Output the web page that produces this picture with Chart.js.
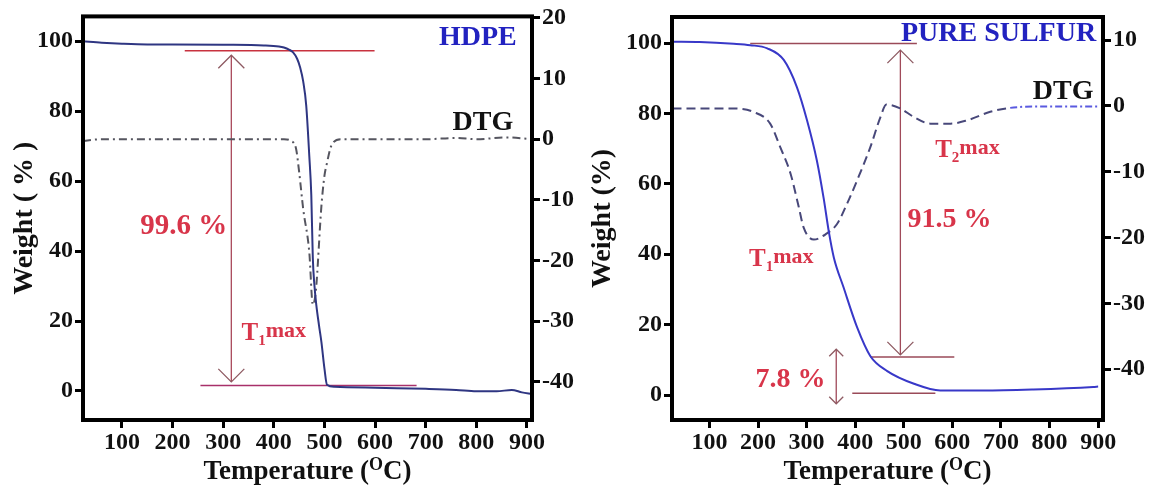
<!DOCTYPE html>
<html>
<head>
<meta charset="utf-8">
<script src="https://cdn.jsdelivr.net/npm/chart.js@4.4.1/dist/chart.umd.min.js"></script>
<style>
  body { margin: 0; background: #fff; }
  #wrap { position: relative; width: 1156px; height: 491px; }
  .panel { position: absolute; top: 0; width: 578px; height: 491px; }
</style>
</head>
<body>
<div id="wrap">
  <div class="panel" style="left:0"><canvas id="hdpe" width="578" height="491"></canvas></div>
  <div class="panel" style="left:578px"><canvas id="sulfur" width="578" height="491"></canvas></div>
</div>
<script>
const FONT = "'Liberation Serif', 'Times New Roman', serif";

// axis ticks
const tempTicks = [100, 200, 300, 400, 500, 600, 700, 800, 900];
const weightTicks = [0, 20, 40, 60, 80, 100];
const hdpeDtgTicks = [20, 10, 0, -10, -20, -30, -40];
const sulfurDtgTicks = [10, 0, -10, -20, -30, -40];

// HDPE weight loss (TGA)
const hdpeTemp   = [23, 60, 100, 150, 200, 300, 380, 410, 420, 430, 438, 446, 452, 458, 464, 470, 474, 477, 480, 484, 489, 494, 500, 505, 520, 600, 700, 760, 800, 840, 870, 890, 910];
const hdpeWeight = [100, 99.6, 99.3, 99.1, 99.1, 99.0, 98.8, 98.5, 98.2, 97.6, 96.8, 95.0, 92.5, 88.5, 81.6, 67.3, 56, 38, 30.5, 24.5, 19, 14, 6.4, 1.8, 1.2, 0.9, 0.6, 0.3, -0.1, -0.1, 0.3, -0.4, -0.9];

// HDPE DTG
const hdpeDtgTemp = [23, 60, 150, 250, 350, 420, 434, 444, 450, 458, 470, 477, 483, 494, 500, 504, 514, 533, 600, 700, 760, 800, 860, 910];
const hdpeDtg     = [-0.3, 0, 0, 0, 0, 0, -0.3, -1.6, -5.4, -11.5, -18.6, -27.3, -25, -11, -6, -4.3, -1, 0, 0, 0, 0.2, 0, 0.3, 0];

// pure sulfur weight loss (TGA)
const sulfurTemp   = [24, 80, 150, 184, 219, 253, 280, 301, 321, 335, 346, 356, 376, 404, 431, 466, 521, 575, 600, 664, 767, 890, 900];
const sulfurWeight = [100.4, 100.3, 99.8, 99.4, 98.5, 95.2, 87.5, 78, 66.7, 56, 46.2, 39.1, 30.6, 19.2, 11.1, 6.8, 3.2, 1.3, 1.3, 1.3, 1.6, 2.3, 2.4];

// pure sulfur DTG
const sulfurDtgTemp = [24, 81, 149, 190, 225, 246, 267, 284, 294, 315, 339, 363, 383, 404, 431, 452, 464, 493, 521, 555, 596, 630, 678, 719, 767, 898];
const sulfurDtg     = [-0.4, -0.4, -0.4, -0.9, -2.7, -6.3, -10.3, -15.4, -18.5, -20.3, -19.5, -17.9, -14.9, -11.3, -6.3, -1.7, 0.2, -0.4, -1.7, -2.7, -2.7, -2.2, -0.9, -0.3, -0.1, -0.1];

// guide lines, [temperature, weight]
const hdpeOnset     = [[224, 97.3], [599, 97.3]];
const hdpeResidue   = [[255, 1.6], [682, 1.6]];
const hdpeSpan      = [[316, 96], [316, 2.6]];
const sulfurOnset   = [[184, 99.9], [527, 99.9]];
const sulfurStep    = [[431, 10.8], [604, 10.8]];
const sulfurResidue = [[394, 0.5], [565, 0.5]];
const sulfurSpan    = [[493, 98], [493, 11.4]];
const sulfurSmall   = [[361, 13], [361, -2.5]];

function pts(xs, ys) { return xs.map((t, i) => ({ x: t, y: ys[i] })); }
function pairPts(p) { return p.map(q => ({ x: q[0], y: q[1] })); }

function guide(p, color, width) {
  return { data: pairPts(p), borderColor: color, borderWidth: width, pointRadius: 0, yAxisID: 'y' };
}

function richText(ctx, parts, x, y, color) {
  let w = 0;
  parts.forEach(p => { ctx.font = 'bold ' + p.size + 'px ' + FONT; p.w = ctx.measureText(p.t).width; w += p.w; });
  let cx = x - w / 2;
  ctx.fillStyle = color;
  ctx.textAlign = 'left';
  ctx.textBaseline = 'alphabetic';
  parts.forEach(p => {
    ctx.font = 'bold ' + p.size + 'px ' + FONT;
    ctx.fillText(p.t, cx, y + (p.dy || 0));
    cx += p.w;
  });
}

function notesPlugin(spec) {
  return {
    id: 'notes',
    afterDatasetsDraw(chart) {
      const { ctx, chartArea: a } = chart;
      const x = chart.scales.x, y = chart.scales.y;
      ctx.save();
      ctx.strokeStyle = '#000';
      ctx.lineWidth = 4;
      ctx.strokeRect(a.left, a.top, a.right - a.left, a.bottom - a.top);

      ctx.strokeStyle = spec.arrowColor;
      ctx.lineWidth = 1.3;
      spec.arrows.forEach(ar => {
        const px = x.getPixelForValue(ar.at[0]), py = y.getPixelForValue(ar.at[1]);
        const s = ar.size, d = ar.dir === 'up' ? s : -s;
        ctx.beginPath();
        ctx.moveTo(px - s, py + d);
        ctx.lineTo(px, py);
        ctx.lineTo(px + s, py + d);
        ctx.stroke();
      });

      spec.labels.forEach(l => {
        const px = x.getPixelForValue(l.at[0]), py = y.getPixelForValue(l.at[1]);
        richText(ctx, l.parts, px, py + l.parts[0].size * 0.33, l.color);
      });

      richText(ctx, [
        { t: 'Temperature (', size: 27 },
        { t: 'O', size: 18, dy: -9 },
        { t: 'C)', size: 27 }
      ], (a.left + a.right) / 2, 479, '#111');
      ctx.restore();
    }
  };
}

function tickFont() { return { family: FONT, size: 24, weight: 'bold' }; }

function makeChart(id, o) {
  const datasets = [
    { data: o.weight, borderColor: o.weightColor, borderWidth: 2, pointRadius: 0, yAxisID: 'y', cubicInterpolationMode: 'monotone' },
    Object.assign({ data: o.dtg, borderColor: o.dtgColor, borderWidth: 2, pointRadius: 0, yAxisID: 'y1', cubicInterpolationMode: 'monotone', borderDash: o.dtgDash }, o.dtgExtra || {})
  ].concat(o.guides);

  return new Chart(document.getElementById(id), {
    type: 'line',
    data: { datasets: datasets },
    options: {
      responsive: false,
      animation: false,
      devicePixelRatio: 1,
      layout: { padding: { top: o.top, left: 0, right: 0, bottom: 0 } },
      plugins: { legend: { display: false }, tooltip: { enabled: false } },
      scales: {
        x: {
          type: 'linear', position: 'bottom', min: 23, max: 910,
          afterBuildTicks: s => { s.ticks = tempTicks.map(v => ({ value: v })); },
          afterFit: s => { s.height = 71; },
          ticks: { font: tickFont(), color: '#111', padding: 0, maxRotation: 0, autoSkip: false },
          grid: { drawOnChartArea: false, drawTicks: true, tickLength: 8, tickWidth: 3, tickColor: '#000' },
          border: { display: false }
        },
        y: {
          position: 'left', min: o.yMin, max: o.yMax,
          afterBuildTicks: s => { s.ticks = weightTicks.map(v => ({ value: v })); },
          afterFit: s => { s.width = o.leftW; },
          ticks: { font: tickFont(), color: '#111', padding: 2 },
          grid: { drawOnChartArea: false, drawTicks: true, tickLength: 8, tickWidth: 3, tickColor: '#000' },
          border: { display: false },
          title: { display: true, text: o.yTitle, color: '#111', font: { family: FONT, size: 28, weight: 'bold' }, padding: { top: 8, bottom: 0 } }
        },
        y1: {
          position: 'right', min: o.dMin, max: o.dMax,
          afterBuildTicks: s => { s.ticks = o.dTicks.map(v => ({ value: v })); },
          afterFit: s => { s.width = o.rightW; },
          ticks: { font: tickFont(), color: '#111', padding: 2 },
          grid: { drawOnChartArea: false, drawTicks: true, tickLength: 8, tickWidth: 3, tickColor: '#000' },
          border: { display: false }
        }
      }
    },
    plugins: [notesPlugin(o.notes)]
  });
}

const RED = '#d8354a';

makeChart('hdpe', {
  top: 14, leftW: 83, rightW: 46,
  yMin: -8.3, yMax: 107.1, dMin: -46.3, dMax: 20.25, dTicks: hdpeDtgTicks,
  yTitle: 'Weight ( % )',
  weight: pts(hdpeTemp, hdpeWeight), weightColor: '#2f3682',
  dtg: pts(hdpeDtgTemp, hdpeDtg), dtgColor: '#55555f', dtgDash: [8, 4, 2, 4],
  guides: [
    guide(hdpeOnset, '#c8323f', 1.5),
    guide(hdpeResidue, '#a8306a', 1.5),
    guide(hdpeSpan, '#a8485a', 1.3)
  ],
  notes: {
    arrowColor: '#8e5a62',
    arrows: [
      { at: hdpeSpan[0], dir: 'up', size: 13 },
      { at: hdpeSpan[1], dir: 'down', size: 13 }
    ],
    labels: [
      { at: [222, 47.7], color: RED, parts: [{ t: '99.6 %', size: 29 }] },
      { at: [400, 16.9], color: RED, parts: [{ t: 'T', size: 25 }, { t: '1', size: 15, dy: 5 }, { t: 'max', size: 22, dy: -3 }] },
      { at: [803, 101.7], color: '#2222c0', parts: [{ t: 'HDPE', size: 28 }] },
      { at: [813, 77.4], color: '#111', parts: [{ t: 'DTG', size: 28 }] }
    ]
  }
});

makeChart('sulfur', {
  top: 17, leftW: 94, rightW: 53,
  yMin: -7.1, yMax: 107.4, dMin: -47.7, dMax: 13.5, dTicks: sulfurDtgTicks,
  yTitle: 'Weight (%)',
  weight: pts(sulfurTemp, sulfurWeight), weightColor: '#3838c8',
  dtg: pts(sulfurDtgTemp, sulfurDtg), dtgColor: '#48487a', dtgDash: [9, 5],
  dtgExtra: {
    segment: {
      borderDash: c => c.p0.parsed.x >= 719 ? [7, 3, 2, 3] : [9, 5],
      borderColor: c => c.p0.parsed.x >= 719 ? '#5a5ae0' : '#48487a'
    }
  },
  guides: [
    guide(sulfurOnset, '#9a4a58', 1.5),
    guide(sulfurStep, '#9a4a58', 1.5),
    guide(sulfurResidue, '#9a4a58', 1.5),
    guide(sulfurSpan, '#a04a5a', 1.3),
    guide(sulfurSmall, '#a04a5a', 1.3)
  ],
  notes: {
    arrowColor: '#8e5a62',
    arrows: [
      { at: sulfurSpan[0], dir: 'up', size: 13 },
      { at: sulfurSpan[1], dir: 'down', size: 13 },
      { at: sulfurSmall[0], dir: 'up', size: 7 },
      { at: sulfurSmall[1], dir: 'down', size: 7 }
    ],
    labels: [
      { at: [594, 50.4], color: RED, parts: [{ t: '91.5 %', size: 28 }] },
      { at: [267, 4.8], color: RED, parts: [{ t: '7.8 %', size: 28 }] },
      { at: [248, 39], color: RED, parts: [{ t: 'T', size: 25 }, { t: '1', size: 15, dy: 5 }, { t: 'max', size: 22, dy: -3 }] },
      { at: [631, 70], color: RED, parts: [{ t: 'T', size: 25 }, { t: '2', size: 15, dy: 5 }, { t: 'max', size: 22, dy: -3 }] },
      { at: [695, 103.1], color: '#2222c0', parts: [{ t: 'PURE SULFUR', size: 28 }] },
      { at: [828, 86.6], color: '#111', parts: [{ t: 'DTG', size: 28 }] }
    ]
  }
});
</script>
</body>
</html>
